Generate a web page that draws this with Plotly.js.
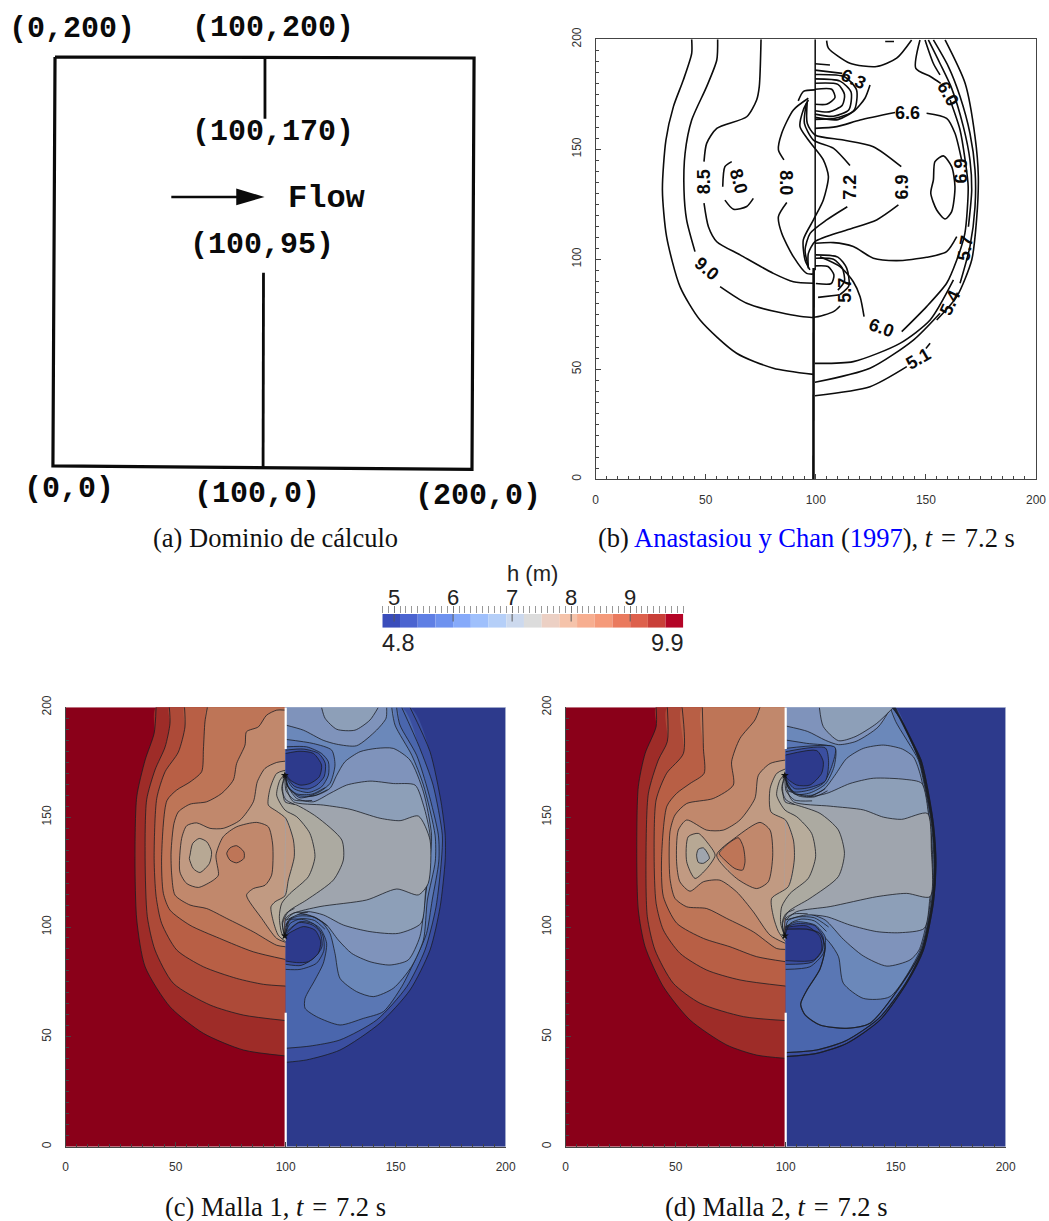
<!DOCTYPE html>
<html><head><meta charset="utf-8">
<script src="https://cdn.plot.ly/plotly-3.0.1.min.js"></script>
<style>html,body{margin:0;padding:0;background:#fff}</style></head>
<body><div id="chart" style="width:1049px;height:1221px"></div>
<script>
// ---------- shared values ----------
const TICKS_50 = [0,50,100,150,200];
const CB_MAJOR = [5,6,7,8,9];
const CB_EDGES = [4.8,5.1,5.4,5.7,6.0,6.3,6.6,6.9,7.2,7.5,7.8,8.1,8.4,8.7,9.0,9.3,9.6];
const CB_COLORS = ['#3a4dbb','#4b64d0','#5f7fe4','#6e92ef','#86aafa','#9fc0fc','#b5cff8','#ccd9ee','#dcdcdc','#ecd0c4','#f5c3aa','#f7ae90','#f59a7a','#ea7a5e','#dd604c','#c93f38','#b40426'];
const CB_BAND = 0.3;
const RED=['#8a0019','#9e2c28','#ad4a38','#b85f45','#be7557','#c1886c','#c19a82','#b7a894'];
const BLUE=['#2d3a8c','#3b4fa0','#4a66ad','#5a77b4','#6b88ba','#7f93bb','#8d9fb8','#9fa5ae'];
const TAN1='#b7ac9b', TAN2='#acaaa1';
const CORNER=[100,200];
const LEFT_RECT=[[0,0],[100,0],[100,200],[0,200]];
const RIGHT_RECT=[[100,0],[200,0],[200,200],[100,200]];
const WALL_LOW=[[100,0],[100,61]], WALL_HIGH=[[100,181],[100,200]];
const TIPS_X=[99.6,99.6], TIPS_Y=[96,169];

// ---------- panel (c) Malla 1 ----------
const c1=[[41.1,200],[40.2,188.2],[36.1,176],[32.3,159.3],[31.5,130.5],[32.3,103.2],[36.1,81.9],[47.4,63.7],[62.6,51.6],[80.8,44],[100,41.3]];
const c2=[[47.1,200],[47.4,192.6],[45.2,182],[40.6,171.5],[36.8,157.9],[36.1,130.5],[37.1,104.7],[40.6,89.5],[48.9,74.4],[65.6,64.5],[80.8,59.9],[100,57.4]];
const c3=[[54,200],[54.2,191],[51.2,179.6],[45.2,170.7],[41.4,158.6],[40.2,131.3],[41.1,113.9],[43.6,101.7],[50.5,89.5],[62.6,81.9],[77.7,76.6],[89.9,73.9],[100,73.1]];
const c4=[[64.4,200],[63.3,193.4],[62.6,181],[61.8,170.7],[56.5,166],[50.4,162.3],[46,157.5],[43.6,131.8],[44.4,115.3],[47.4,107.7],[56.5,100.8],[70,94.8],[85.3,88.7],[100,85.2]];
const c5=[[100,198.7],[95.9,198.7],[91.3,196.4],[87.6,191.1],[82.2,188.9],[81.5,182.8],[77.7,174.4],[76.2,166.9],[70.9,160.8],[64.1,157],[56.5,155.9],[51.2,152.4],[49.2,147.1],[47.9,134.2],[48.2,123.6],[49.7,114.5],[56.5,110],[64.1,108.4],[73.2,103.9],[85.3,97.8],[95.9,91.7],[100,91]];
const c6=[[100,175.5],[95.9,174.9],[90.6,172.2],[87.1,166.1],[85.3,157],[79.2,148.6],[71.6,144.9],[65.6,144.9],[59.5,147.4],[55,146.1],[52.7,140.3],[51.9,125.1],[55,119.8],[60.3,118],[67.1,121.3],[69.4,123.6],[68.3,132.7],[71.6,141.1],[77.7,145.6],[86.8,147.6],[92.1,145.6],[94.1,137.3],[93.6,123.6],[90.6,119],[85.3,117.5],[82.2,114.5],[89.1,103.9],[95.9,94.8],[100,93]];
const cBlob=[[56.5,132.7],[57.7,138],[60.7,140.3],[64.1,138.8],[66.3,134.2],[65.3,128.9],[61,124.8],[58,126.6],[56.2,131.2]];
const cDot=[[73.2,133.5],[74.7,136],[77.7,137],[81,134.2],[81,131.2],[77.7,129.2],[74.7,130.4]];
const cG1=[[100,171.4],[95.9,169.9],[92.9,163],[92.1,155.5],[95.9,152.7],[100,149.5],[103.5,139.6],[103.9,132],[101.2,121.4],[99.7,114.2],[95.2,111.5],[93.3,109.2],[94.4,102.4],[96.6,96.3],[100,93.3]];
const cBulge=[[100,149.5],[103.5,139.6],[103.9,132],[101.2,121.4],[99.7,114.2]];
const cG2=[[100,169.9],[97.4,166.9],[95.9,160],[99.7,153.2],[105,150.2],[111,142.6],[113.3,132],[110.3,122.9],[102,115.3],[98.2,110.8],[97.1,104.7],[98.2,97.1],[100,94.8]];
const cG3=[[100,169],[98.6,164.6],[99.7,157],[105,155.5],[114,150.2],[125.5,139.6],[126.2,130.5],[121.7,121.4],[109.5,112.3],[101.2,107],[98.6,101.7],[99.2,96.4]];
const cR1=[[156.5,200],[165.6,179.8],[170.6,157],[172.5,141.8],[172.5,130.5],[170.2,109.2],[165.6,89.5],[156.5,71.3],[142.8,56.2],[124.7,44],[109.5,39.5],[100,38.4]];
const cR2=[[152.7,200],[160.8,181.8],[167,164.6],[171.2,141.8],[170.8,130.5],[168.3,109],[163.3,89.5],[155,72.8],[141.4,57.7],[124.7,48.6],[111,45.8],[100,44.8]];
const cR3=[[150.4,200],[151.9,192],[159.5,178.2],[164.8,161.5],[169.4,141.8],[169.6,130],[166.6,112.3],[164,97],[159.5,86.5],[152.7,72.8],[144.4,61.5],[135.3,58.4],[124.7,55.4],[114,59.2],[108.8,63],[108.8,67.5],[113.3,75.9],[117.1,83.5],[118.6,92.6],[115.6,99.4],[108.8,103.2],[102,103.2],[100,97]];
const cR4=[[148.2,200],[149.7,191.9],[157.3,178.2],[162.6,164.6],[167.9,141.8],[168,130],[164.4,112.3],[162.6,94.1],[157.2,82],[148.9,72.1],[139.8,68.3],[132.2,70.6],[124.7,76.6],[122.4,88],[120.1,97.1],[116.3,102.4],[110.3,105.5],[103.5,105.5],[100,100]];
const cR5=[[100,191.9],[108,189.6],[117,185],[123.2,183.2],[132.2,182.5],[141.3,189.6],[145.6,195],[145.9,200]];
const cTop=[[116.3,200],[117.9,195],[123.2,190],[131.5,189.6],[138.3,194.2],[142.1,200]];
const cR6=[[100,168.4],[102,163.1],[106.5,159.3],[114,160],[120.1,163.1],[123.2,169.1],[126.9,175.2],[133.8,179.8],[141.3,181.3],[148.9,181.3],[156.5,176],[162.6,161.5],[166.3,141.8],[165.5,130],[163.3,112.3],[161,95.6],[155.7,85],[147.4,82.7],[138.3,84.2],[130,88],[123.9,94.1],[118.6,100.9],[112.6,104.7],[105,106.2],[100,100.9]];
const cR7=[[100,165.5],[105,158.5],[112.6,157],[120.1,160.8],[127.7,164.6],[138.3,166.4],[148.9,165.3],[158.8,164.6],[162.6,155.5],[165.6,141.8],[164.5,130],[163.5,115],[161.5,101.7],[151.2,97.1],[138.3,97.9],[126.2,100.9],[117.1,105.5],[109.5,107],[100,103]];
const cR8=[[100,169.5],[100.5,163],[103.5,157],[117.1,155.5],[129.2,153.6],[142.9,149.5],[152,148.4],[160.3,150.5],[165.6,139.6],[164.8,119.9],[160.3,114.6],[150.5,117.3],[136.8,112.3],[115.6,109.3],[103.5,106.2],[100,103.2]];
const cV4=[[100,185.4],[112.6,183.5],[120.9,180.5],[122.4,173.7],[120.1,165.3],[114.8,161.2],[106.5,158.8],[101.2,163.8],[100,168.4]];
const cV3=[[100,182],[109.5,182],[116.3,179],[119.4,175.2],[119.4,169.1],[116.3,163.8],[110.3,161.2],[103.5,163.1],[100,168.4]];
const cV2=[[100,180.5],[108,181],[115,179],[118,174.5],[117.5,168.5],[114,164.5],[110,162.8],[104,164],[100,169]];
const cV1=[[100,179],[106.5,180],[112.6,179],[116.3,173.7],[115.3,168.4],[111,165.3],[106.5,164.6],[102,166.9],[100,169.9]];
const cU3=[[100,80.7],[106.5,80.7],[114,83.5],[117.4,89.5],[116.8,96.4],[112.6,101.4],[106.5,102.4],[100.4,97.9]];
const cU2=[[100,83],[107,82.5],[113,86],[116.5,91],[115.5,98],[112,101],[106,102],[100.2,97]];
const cU1=[[100,84.5],[105,83.8],[110.3,84.2],[114.8,88],[115.9,93.3],[113.3,98.6],[108,100.2],[100.1,96.4]];
const cFan=[
 [[99.6,169],[101,164],[105,160.6],[112,160.5],[118,163.5]],
 [[99.6,169],[101.5,163],[106,159.8],[113,159.8],[119,162.5]],
 [[99.6,169],[100.2,162],[104,157.8],[112,157.6]],
 [[99.6,169],[98.2,163],[100,158],[104,155.8]],
 [[99.6,96],[102,101.6],[107,103.8],[113,103],[117.8,99]],
 [[99.6,96],[101,102.8],[106,105],[113,104.5],[119,100.5]],
 [[99.6,96],[100,104],[104,106.5],[110,106.6]],
 [[99.6,96],[98.4,102],[100,106],[104,108.5]]
];

// ---------- panel (d) Malla 2 ----------
const d1=[[41.1,200],[41.1,191.2],[36.1,179],[33,163.9],[32.3,132],[33,107.7],[36.1,91],[44.4,72.8],[56.5,57.7],[73.2,46.3],[86.8,41.7],[100,40.2]];
const d2=[[46.2,200],[46.2,184.4],[42.1,176],[37.6,160.9],[36.5,132],[37.1,104.7],[40.6,89.5],[48.9,74.4],[61.1,65.3],[80.8,59.2],[100,57.4]];
const d3=[[52.9,200],[53.5,179],[45.9,170],[41.1,157.8],[40.2,132],[41.1,110.8],[44.4,98.6],[52,88],[64.1,80.4],[79.2,75.9],[100,73.1]];
const d4=[[62.1,200],[62.6,181.3],[62.9,169.9],[56.5,165.3],[50.4,160.8],[46,155],[43.6,132],[44.4,113.8],[50.5,101.7],[62.6,94.8],[74.7,91],[86.8,86.5],[100,84.2]];
const d5=[[88.3,200],[86,194.2],[79.2,185.8],[75.4,175.2],[76.2,164.6],[67.1,158.5],[55,156.2],[49.7,151],[47.4,143.3],[47.4,122.1],[49.7,113],[55,109.2],[64.1,108.4],[73.2,103.9],[85.3,97.8],[95.9,90.2],[100,89.8]];
const d6=[[100,176],[92.9,174.4],[87.6,169.1],[86,158.5],[79.2,148.7],[71.6,144.1],[64.1,144.1],[55,148.7],[51.2,144.1],[50.4,129.7],[51.9,120.6],[56.5,116.3],[62.6,120.6],[70.1,121.3],[77.7,116],[85.3,106.9],[92.9,96.3],[100,92.5]];
const dRightLoop=[[68.6,132.7],[77.7,141.1],[88.3,147.6],[92.9,144.1],[94.1,132.7],[92.1,120.6],[86.8,117.5],[77.7,122.1]];
const dRightCore=[[69.8,133.5],[73.9,138],[78.5,140.6],[80.7,136.5],[81.5,129.7],[80.4,125.9],[76.9,126.6],[72.4,130.4]];
const dLeftLoop=[[60.3,142.6],[55.7,141.1],[55,129.7],[58.8,122.1],[64.1,126.6],[67.9,132.7],[64.1,138.8]];
const dLeftCore=[[59.5,132.7],[60.3,135.4],[62.6,136],[64.8,133],[65.3,131.2],[62.6,129],[60.3,129.4]];
const dG1=[[100,172],[95.9,169.9],[92.9,163],[93.3,152.4],[100,148.6],[103.5,139.6],[103.9,130.5],[101.2,118.4],[93.6,113],[94.4,104.7],[96.7,97.9],[100,93.3]];
const dBulge=[[100,148.6],[103.5,139.6],[103.9,130.5],[101.2,118.4],[99.5,117]];
const dG2=[[100,170],[97.4,166.9],[95.9,160],[99.7,153.2],[105,150.2],[111.8,142.6],[113.6,132],[110.3,122.2],[102,115.3],[98.2,109.3],[97.7,101.7],[100,94.8]];
const dG3=[[100,169],[98.6,164.6],[99.7,157],[105,155.5],[115.6,151.7],[123.9,144.2],[126.7,133.5],[123.9,122.9],[111,113],[101.2,107],[98.6,101.7],[99.2,96.4]];
const dR1=[[149.7,200],[155,189.5],[161.5,176],[163.5,168],[167.1,147.2],[168.3,129],[167.1,110.8],[162.6,89.5],[155,74.4],[142.9,57.7],[127.7,47],[114.1,42.5],[100,41]];
const dR2=[[149.2,200],[154.6,189.5],[161.1,176],[163.1,168],[166.8,147.2],[168,129],[166.8,110.8],[162.2,89.5],[154.5,74.4],[142.3,58.4],[127.3,48.2],[114,44],[100,42.8]];
const dR3=[[148.5,200],[152,195],[160.7,176],[162.7,168],[166.5,147.2],[167.7,129],[166.5,110.8],[161.8,89.5],[153,74.4],[138.3,56.2],[127.7,53.9],[115.6,55.4],[108.8,60],[106.8,64.9],[109.5,71],[115.6,80.9],[117.9,90.8],[115.6,96.9],[109.5,99],[100,99]];
const dR4=[[147.5,200],[150,193.5],[160.3,176],[162.3,168],[166.2,147.2],[167.4,129],[166.2,110.8],[161.2,89.5],[147.4,68.3],[135.3,67.5],[126.2,74.4],[124,86.5],[120.2,92.6],[114.1,98.6],[106.5,101.7],[100,100.2]];
const dR5=[[100,191.5],[110,189],[118,185],[124,183],[132,184.5],[142,191],[148,200]];
const dTop=[[115.3,200],[117.1,191.2],[124,184.8],[131.5,186.6],[141.4,192.7],[149,200]];
const dR6=[[100,166],[102,162],[108,158.7],[117.1,162.4],[122.4,169.1],[127.7,176.7],[135.3,181.3],[144.4,182.8],[153,181],[158,177.5],[161,170],[165.6,147],[166.9,129],[165.6,110],[160.6,89.5],[156.5,85],[146,82.2],[135.3,86.8],[126.2,94.4],[117.9,103.2],[109.5,106.2],[100,106]];
const dR7=[[100,162.4],[109.5,159.3],[118.6,160.8],[129.2,165.3],[139.8,167.7],[154.2,167.2],[161.8,165.4],[165.3,148],[166.5,130],[165.5,113],[163,99.4],[151.9,97.4],[141.4,97.9],[129.2,100.9],[118.6,104.7],[109.5,105.5],[100,103.2]];
const dR8=[[100,169.5],[100.5,163],[103.5,157],[120.2,155],[135.3,153.3],[144.4,150],[152.7,149],[164.4,151.7],[166.2,135],[165.6,113.8],[155,115.3],[141.4,113.8],[120.2,109.3],[105,107],[100,103.2]];
const dV4=[[100,185.1],[109.5,183.6],[122.4,181.5],[122,173],[118,165],[111,161],[104,160.5],[100,167]];
const dV3=[[100,181.3],[122.4,181.8],[120.9,173],[117.1,165.4],[111,162.4],[103.5,161.6],[100,167]];
const dV2=[[100,179.8],[118,181.5],[119.5,175],[118,166.5],[111,163.5],[104,163],[100,167.5]];
const dV1=[[100,178.3],[114.1,180.3],[117.1,175.2],[116.3,169.9],[111,164.6],[105,164.6],[100,168]];
const dU3=[[100,80.7],[111,81.9],[117.1,88],[117.9,95.6],[113.3,100.9],[105,102.4],[100,100.2]];
const dU2=[[100,83],[112,84],[116.5,89],[117,95.5],[113,100.7],[105,101.5],[100,100]];
const dU1=[[100,84.7],[112.6,84.9],[116.4,89.5],[115.6,95.6],[109.5,100.5],[100,99.8]];
const dFan=[
 [[99.6,169],[101,164],[105,160.6],[112,160],[118,163]],
 [[99.6,169],[101.5,163],[106,159.6],[113,159.2],[119,162]],
 [[99.6,169],[100.2,162],[104,157.8],[112,157.4]],
 [[99.6,169],[98.2,163],[100,158],[104,155.8]],
 [[99.6,96],[102,101.6],[107,103.6],[113,102.8],[118.5,98]],
 [[99.6,96],[101,102.8],[106,104.6],[113,104.2],[119.5,100]],
 [[99.6,96],[100,104],[104,106],[110,106]],
 [[99.6,96],[98.4,102],[100,106],[104,108]]
];

// ---------- panel (b) Anastasiou y Chan ----------
const bLines=[
 [[43.6,200],[43.6,193.6],[39.8,181.5],[35.3,169.4],[31.9,154.2],[30.3,131.5],[32.2,110.3],[38.3,87.6],[47.4,72.4],[64,57.3],[80.7,50.5],[98.9,47.7]],
 [[55.4,200],[55,190.6],[50.4,178.5],[43.6,163.3],[40.6,148.2],[40.1,131.5],[41.3,117.9],[45.1,103.5]],
 [[56.5,87.6],[68.6,80],[83.7,75.8],[98.9,73.6],[108,76.2],[111,78.8]],
 [[75.1,200],[74.3,178.5],[73.1,172.4],[68.6,164.8],[55,159.5],[50.4,152.7],[49.2,144.4]],
 [[49.2,125.5],[51.2,114.8],[55,108],[65.6,102],[80.7,93.6],[89.8,89.8],[98.9,89.1]],
 [[100,89],[107,89],[108.2,92.9],[105.5,96.7],[99.6,97]],
 [[61.8,144.4],[58.7,142.1],[57.7,133]],
 [[58.7,126.9],[62.6,122.7],[68.6,124],[71.6,127.7]],
 [[96.6,173.2],[89.8,167.9],[84.5,157.3],[83,149.7],[85.5,145.2]],
 [[86.8,125.8],[83,119.4],[84.5,111.8],[89.8,101.2],[95.8,93.6],[98.9,93.3]],
 [[96.6,172.4],[94.3,167.9],[92.8,160.3],[96.6,154.2],[103.4,145.2],[105.7,137.6],[103.4,127],[98.9,117.9],[94.3,108.8],[95.1,99.7],[97.3,95.2]],
 [[99.6,177],[94.4,176.3],[92,172]],
 [[95.7,170.9],[94.8,161.8],[98.9,154.2],[107.9,150.5],[115.5,142.6]],
 [[114.3,123.9],[104.9,117.9],[97.4,111.8],[95.1,104.2],[96.6,96.7]],
 [[96.1,171.7],[96.1,161.8],[99.6,156.5],[112.5,154.2],[126.1,151.2],[138.8,142.1]],
 [[137.5,124.7],[127.6,117.9],[114,113.3],[99.6,108],[96.6,102.7],[96.6,95.9]],
 [[99.6,159.5],[109.5,160.3],[120.1,163.3],[136,166.7]],
 [[150.3,166.4],[159.4,164.1],[163.2,157.3],[166.2,145.2]],
 [[99.6,107.3],[108,107.6],[117,105.8],[126.1,100.5],[136.7,99.4],[150.3,100.9],[159.4,103.5],[164,110.3]],
 [[104.9,199.4],[105.7,196],[115.5,189.1],[127.6,187.6],[136.7,191.4],[143.5,199.7]],
 [[147.3,199.7],[145.4,186.8],[152.2,183],[156.7,180]],
 [[149.6,199.7],[153.4,189],[156.4,183.8]],
 [[161,172.4],[165.5,158.8],[167.8,145.2],[169.2,133],[167.7,111.8],[164,99.7],[159.4,89.1],[150.3,78.5],[139,67.1]],
 [[121.9,73.9],[120.1,83],[117,89.8],[111,96.7],[101.9,101.2]],
 [[151.1,199.7],[156.4,189],[161.7,177.7],[167,160.3],[170,145.2],[170.8,131.5],[169.3,114.8]],
 [[162.5,90.6],[151.9,72.4],[138.2,61.8],[117,53.5],[99.6,52.7]],
 [[153.4,199.7],[160.2,187.6],[165.5,174],[170,157.3],[172.3,140.6],[172.3,123.9],[170,105.8],[165.5,89.1]],
 [[156.4,75.5],[144.3,63.3],[124.6,50.5],[99.6,44.1]],
 [[158.7,199.7],[167.8,180],[172.3,155.8],[173.8,137.6],[173,117.9],[170.8,99.7],[164,83],[154.9,72.4]],
 [[151.9,61.8],[150,59.5]],
 [[141.3,51.2],[124.6,42.1],[99.6,38]],
 [[157.9,147],[154.1,144.4],[153.4,136.1],[152.2,130],[154.9,122.4],[158.7,118.3],[161.7,121.7],[163.2,133],[161.7,142.1],[157.9,147]],
 [[99.6,177.3],[107.2,177.3],[108.7,173.5],[104.9,170.5],[99.6,170.5]],
 [[99.6,180],[110,179.5],[113,175],[112,170],[106,167],[99.6,167.5]],
 [[99.6,182],[111,181],[116,176],[115,168],[108,165],[99.6,166]],
 [[99.6,184],[113,183],[118.5,177],[117.5,168],[110,163.5],[99.6,164.5]],
 [[124.6,179.2],[122.3,173.2],[117,167.1],[108.7,164.1],[99.6,163.6]],
 [[99.6,188.9],[106.4,188.3]],
 [[99.6,186],[112,184.5]],
 [[100,100.5],[108,100],[112,96],[113,90],[110,86]],
 [[100,102],[110,101],[114,96],[115,88],[111,84]],
 [[101,82.7],[110.2,83.8]],
 [[131.5,199],[135.5,199]]
];
const bWallUpper=[[99.7,200],[99.7,95]];
const bWallLower=[[99,96],[98.9,0]];
const bLabelText=['8.5','8.0','8.0','7.2','6.9','6.6','6.3','6.0','6.9','5.7','5.7','5.4','5.1','6.0','9.0'];
const bLabelX=[49.2,64.8,86.5,115.5,139,141.7,117,160,166,168,113.5,161,146.5,130,50.5];
const bLabelY=[135,135.5,135,133,133,166.5,182,175,140,105,86,80,54.5,69,95.5];
const bLabelAngle=[-90,75,90,-90,-90,0,25,60,-90,-80,-90,-65,-30,20,40];

// ---------- panel (a) domain ----------
const aFrame=[[0.5,200],[200.5,199.5],[199.5,-0.7],[-0.5,1],[0.5,200]];
const aWallTop=[[100.7,199.8],[100.7,170]];
const aWallBottom=[[100,95],[99.8,0.5]];
const aShaft=[[56,131.9],[90,131.9]];
const aHead=[[87,136],[100.5,131.9],[87,127.8]];
const aText=['(0,200)','(100,200)','(100,170)','Flow','(100,95)','(0,0)','(100,0)','(200,0)'];
const aTextPx=[72,273,273,327,262,69,257,478];
const aTextPy=[29,28,132,198,245,489,494,496];

// ---------- captions ----------
const capText=['(a) Dominio de cálculo','(b) <span style="color:#0000ff">Anastasiou y Chan</span> (<span style="color:#0000ff">1997</span>), <i>t</i>\u2004=\u20047.2 s','(c) Malla 1, <i>t</i>\u2004=\u20047.2 s','(d) Malla 2, <i>t</i>\u2004=\u20047.2 s'];
const capX=[275,806,276,776];
const capY=[538,538,1207,1207];

// ---------- build ----------
const W=1049,H=1221;
const traces=[];
const fx=p=>p/W, fy=p=>1-p/H;
function fillT(pts,color,ax,shape){
  traces.push({type:'scatter',mode:'lines',x:pts.map(p=>p[0]),y:pts.map(p=>p[1]),fill:'toself',fillcolor:color,
    line:{width:0,color:color,shape:shape||'spline',smoothing:0.7},xaxis:'x'+ax,yaxis:'y'+ax,hoverinfo:'skip',showlegend:false});
}
function lineT(pts,ax,color,width,closed,shape){
  const p=closed?pts.concat([pts[0]]):pts;
  traces.push({type:'scatter',mode:'lines',x:p.map(q=>q[0]),y:p.map(q=>q[1]),
    line:{width:width,color:color,shape:shape||'spline',smoothing:0.7},xaxis:'x'+ax,yaxis:'y'+ax,hoverinfo:'skip',showlegend:false});
}
const CLINE='rgba(25,28,35,0.78)';
function panel(ax,S){
  fillT(LEFT_RECT,RED[0],ax,'linear');
  fillT(RIGHT_RECT,BLUE[0],ax,'linear');
  S.left.forEach((p,i)=>{ const poly=S.leftCorner[i]?[CORNER].concat(p):p; fillT(poly,RED[i+1],ax); });
  S.left.forEach(p=>lineT(p,ax,CLINE,1));
  S.lobes.forEach(l=>{fillT(l.p,l.c,ax);lineT(l.p,ax,CLINE,1,true);});
  S.right.forEach(r=>{ const poly=r.pre?[CORNER].concat(r.p):(r.post?r.p.concat([CORNER]):r.p); fillT(poly,r.c,ax); lineT(r.p,ax,CLINE,1,r.closed); });
  fillT(S.g3,BLUE[7],ax);
  fillT(S.bulge,RED[6],ax);
  const gp=(a,b,c)=>fillT(a.concat(b.slice().reverse()),c,ax);
  gp(S.g1,S.g2,TAN1); gp(S.g2,S.g3,TAN2);
  [S.g1,S.g2,S.g3].forEach(g=>lineT(g,ax,CLINE,1));
  S.vort.forEach(v=>{fillT(v.p,v.c,ax);lineT(v.p,ax,CLINE,1);});
  S.fan.forEach(f=>lineT(f,ax,CLINE,1));
  S.front.forEach(f=>lineT(f,ax,CLINE,S.frontW));
  lineT(WALL_LOW,ax,'#ffffff',2.2,false,'linear');
  lineT(WALL_HIGH,ax,'#ffffff',2.2,false,'linear');
  lineT([[100,200],[200,200],[200,0]],ax,'#a9b4cf',1,false,'linear');
  traces.push({type:'scatter',mode:'markers',x:TIPS_X,y:TIPS_Y,marker:{symbol:'star',size:6,color:'#111',line:{width:0}},xaxis:'x'+ax,yaxis:'y'+ax,hoverinfo:'skip',showlegend:false});
}
panel(3,{left:[c1,c2,c3,c4,c5,c6],leftCorner:[1,1,1,1,1,0],
  lobes:[{p:cBlob,c:RED[7]},{p:cDot,c:RED[4]}],
  right:[{p:cR1,c:BLUE[1],pre:1},{p:cR2,c:BLUE[2],pre:1},{p:cR3,c:BLUE[3],pre:1},{p:cR4,c:BLUE[4],pre:1},{p:cR5,c:BLUE[5],post:1},{p:cTop,c:BLUE[6]},{p:cR6,c:BLUE[5]},{p:cR7,c:BLUE[6]},{p:cR8,c:BLUE[7]}],
  g1:cG1,g2:cG2,g3:cG3,bulge:cBulge,fan:cFan,front:[],frontW:1,
  vort:[{p:cV4,c:BLUE[3]},{p:cV3,c:BLUE[2]},{p:cV2,c:BLUE[1]},{p:cV1,c:BLUE[0]},{p:cU3,c:BLUE[2]},{p:cU2,c:BLUE[1]},{p:cU1,c:BLUE[0]}]});
panel(4,{left:[d1,d2,d3,d4,d5,d6],leftCorner:[1,1,1,1,1,0],
  lobes:[{p:dRightLoop,c:RED[5]},{p:dRightCore,c:RED[4]},{p:dLeftLoop,c:RED[7]},{p:dLeftCore,c:BLUE[7]}],
  right:[{p:dR1,c:BLUE[1],pre:1},{p:dR2,c:BLUE[2],pre:1},{p:dR3,c:BLUE[3],pre:1},{p:dR4,c:BLUE[4],pre:1},{p:dR5,c:BLUE[5],post:1},{p:dTop,c:BLUE[6]},{p:dR6,c:BLUE[5]},{p:dR7,c:BLUE[6]},{p:dR8,c:BLUE[7]}],
  g1:dG1,g2:dG2,g3:dG3,bulge:dBulge,fan:dFan,front:[dR1,dR2,dR3],frontW:1.2,
  vort:[{p:dV4,c:BLUE[3]},{p:dV3,c:BLUE[2]},{p:dV2,c:BLUE[1]},{p:dV1,c:BLUE[0]},{p:dU3,c:BLUE[2]},{p:dU2,c:BLUE[1]},{p:dU1,c:BLUE[0]}]});
// panel b
bLines.forEach(l=>lineT(l,2,'#0c0c0c',1.6));
lineT(bWallUpper,2,'#0c0c0c',1.5,false,'linear');
lineT(bWallLower,2,'#0c0c0c',2.6,false,'linear');
// panel a
lineT(aFrame,1,'#0a0a0a',3.2,false,'linear');
lineT(aWallTop,1,'#0a0a0a',2.8,false,'linear');
lineT(aWallBottom,1,'#0a0a0a',2.8,false,'linear');
lineT(aShaft,1,'#0a0a0a',2.4,false,'linear');
fillT(aHead,'#0a0a0a',1,'linear');
// colour bar
traces.push({type:'bar',orientation:'h',base:CB_EDGES,x:CB_EDGES.map(()=>CB_BAND),y:CB_EDGES.map(()=>0.5),width:1,
  marker:{color:CB_COLORS,line:{width:0}},xaxis:'x5',yaxis:'y5',hoverinfo:'skip',showlegend:false});
CB_MAJOR.forEach(v=>traces.push({type:'scatter',mode:'lines',x:[v,v],y:[1,0.45],line:{color:'#5a5a5a',width:1},xaxis:'x5',yaxis:'y5',hoverinfo:'skip',showlegend:false}));

function plotAxis(l,r){return {domain:[fx(l),fx(r)],range:[0,200],tickvals:TICKS_50,ticks:'inside',ticklen:5,tickwidth:1,tickcolor:'#444',
  showgrid:false,zeroline:false,showline:true,linecolor:'#444',linewidth:1,ticklabelstandoff:9,tickfont:{family:'Liberation Sans',size:12,color:'#333'},
  minor:{dtick:5,ticks:'inside',ticklen:3,tickcolor:'#444',tickwidth:1,showgrid:false}};}
function plotYAxis(t,b,an){return {domain:[fy(b),fy(t)],range:[0,200],anchor:an,tickvals:TICKS_50,ticks:'inside',ticklen:5,tickwidth:1,tickcolor:'#444',tickangle:-90,
  showgrid:false,zeroline:false,showline:true,linecolor:'#444',linewidth:1,ticklabelstandoff:9,tickfont:{family:'Liberation Sans',size:12,color:'#333'},
  minor:{dtick:5,ticks:'inside',ticklen:3,tickcolor:'#444',tickwidth:1,showgrid:false}};}

const anns=[];
const mk=(o)=>Object.assign({showarrow:false},o);
aText.forEach((t,i)=>anns.push(mk({text:t,x:fx(aTextPx[i]),y:fy(aTextPy[i]),xref:'paper',yref:'paper',xanchor:'center',yanchor:'middle',
  font:{family:'Liberation Mono',size:t==='Flow'?32:30,color:'#0a0a0a',weight:'bold'}})));
bLabelText.forEach((t,i)=>anns.push(mk({text:t,x:bLabelX[i],y:bLabelY[i],xref:'x2',yref:'y2',textangle:bLabelAngle[i],xanchor:'center',yanchor:'middle',
  font:{family:'Liberation Sans',size:18,color:'#0a0a0a',weight:'bold'}})));
capText.forEach((t,i)=>anns.push(mk({text:t,x:fx(capX[i]),y:fy(capY[i]),xref:'paper',yref:'paper',xanchor:'center',yanchor:'middle',
  font:{family:'Liberation Serif',size:26.5,color:'#111'}})));
anns.push(mk({text:'h (m)',x:fx(532),y:fy(573),xref:'paper',yref:'paper',xanchor:'center',yanchor:'middle',font:{family:'Liberation Sans',size:22,color:'#222'}}));
anns.push(mk({text:'4.8',x:fx(382),y:fy(643),xref:'paper',yref:'paper',xanchor:'left',yanchor:'middle',xshift:-2,font:{family:'Liberation Sans',size:23.5,color:'#222'}}));
anns.push(mk({text:'9.9',x:fx(684),y:fy(643),xref:'paper',yref:'paper',xanchor:'right',yanchor:'middle',xshift:2,font:{family:'Liberation Sans',size:23.5,color:'#222'}}));

const layout={width:W,height:H,margin:{l:0,r:0,t:0,b:0},paper_bgcolor:'#fff',plot_bgcolor:'rgba(0,0,0,0)',showlegend:false,barmode:'overlay',annotations:anns,
  xaxis:{domain:[fx(43.5),fx(483.5)],range:[-5,205],visible:false,anchor:'y',fixedrange:true},
  yaxis:{domain:[fy(478.3),fy(46.7)],range:[-5,205],visible:false,anchor:'x',fixedrange:true},
  xaxis2:Object.assign(plotAxis(595.7,1036),{anchor:'y2',mirror:true}),
  yaxis2:Object.assign(plotYAxis(39.3,479.3,'x2'),{mirror:true}),
  xaxis3:Object.assign(plotAxis(65.7,505.7),{anchor:'y3'}),
  yaxis3:plotYAxis(707.3,1146.7,'x3'),
  xaxis4:Object.assign(plotAxis(565.7,1005.7),{anchor:'y4'}),
  yaxis4:plotYAxis(707.3,1146.7,'x4'),
  xaxis5:{domain:[fx(382.3),fx(683.3)],range:[4.8,9.9],anchor:'y5',side:'top',tickvals:CB_MAJOR,ticks:'outside',ticklen:7,tickcolor:'#777',tickwidth:1,showgrid:false,zeroline:false,showline:false,ticklabelstandoff:-8,
    tickfont:{family:'Liberation Sans',size:22,color:'#222'},minor:{dtick:0.1,ticks:'outside',ticklen:7,tickcolor:'#999',tickwidth:1,showgrid:false}},
  yaxis5:{domain:[fy(627.7),fy(614)],range:[0,1],anchor:'x5',visible:false,fixedrange:true}
};
Plotly.newPlot('chart',traces,layout,{displayModeBar:false,staticPlot:true});
</script></body></html>
